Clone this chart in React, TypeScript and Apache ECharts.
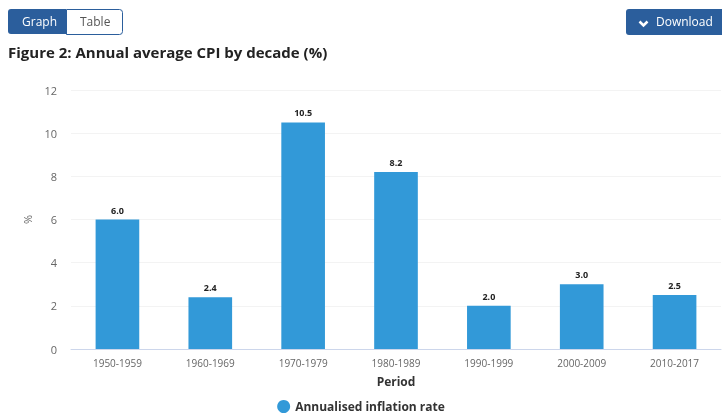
import React, { useEffect, useRef } from "react";
import * as echarts from "echarts";

const categories = ["1950-1959", "1960-1969", "1970-1979", "1980-1989", "1990-1999", "2000-2009", "2010-2017"];
const inflation = [6.0, 2.4, 10.5, 8.2, 2.0, 3.0, 2.5];
const yTicks = [0, 2, 4, 6, 8, 10, 12];
const seriesName = "Annualised inflation rate";
const titleText = "Figure 2: Annual average CPI by decade (%)";

export default function App() {
  const ref = useRef<HTMLDivElement>(null);
  useEffect(() => {
    if (!ref.current) return;
    const chart = echarts.init(ref.current, null, { renderer: "svg" });
    const font = "'Open Sans', 'Noto Sans', sans-serif";
    const navy = "#2b5e9c";
    chart.setOption({
      animation: false,
      textStyle: { fontFamily: font },
      grid: { left: 71, right: 1, top: 90, bottom: 65 },
      legend: {
        bottom: 1,
        padding: 0,
        left: "center",
        icon: "circle",
        itemWidth: 13,
        itemHeight: 13,
        itemGap: 6,
        textStyle: { fontSize: 12, fontWeight: "bold", color: "#333", fontFamily: font },
        data: [seriesName],
      },
      xAxis: {
        type: "category",
        data: categories,
        name: "Period",
        nameLocation: "middle",
        nameGap: 26,
        nameTextStyle: { fontSize: 12, fontWeight: "bold", color: "#333" },
        axisLine: { lineStyle: { color: "#ccd6eb" } },
        axisTick: { show: false },
        axisLabel: { color: "#666", fontSize: 10, margin: 9 },
      },
      yAxis: {
        type: "value",
        min: yTicks[0],
        max: yTicks[yTicks.length - 1],
        interval: 2,
        name: "%",
        nameLocation: "middle",
        nameGap: 38,
        nameRotate: 90,
        nameTextStyle: { fontSize: 11, color: "#666" },
        axisLabel: { color: "#666", fontSize: 11, margin: 14 },
        splitLine: { lineStyle: { color: "#f3f3f3" } },
      },
      series: [
        {
          name: seriesName,
          type: "bar",
          data: inflation,
          barWidth: "47%",
          itemStyle: { color: "#3299d8" },
          label: {
            show: true,
            position: "top",
            distance: 5,
            formatter: (p: any) => Number(p.value).toFixed(1),
            fontSize: 9,
            fontWeight: "bold",
            color: "#222",
          },
        },
      ],
      graphic: [
        { type: "rect", left: 8, top: 9, shape: { width: 58, height: 25, r: [3, 0, 0, 3] }, style: { fill: navy } },
        { type: "text", left: 22, top: 15, style: { text: "Graph", fill: "#fff", fontSize: 12, fontFamily: font } },
        { type: "rect", left: 66, top: 9, shape: { width: 56, height: 25, r: [0, 3, 3, 0] }, style: { fill: "#fff", stroke: navy, lineWidth: 1 } },
        { type: "text", left: 80, top: 15, style: { text: "Table", fill: "#555", fontSize: 12, fontFamily: font } },
        { type: "rect", left: 626, top: 9, shape: { width: 96, height: 26, r: [3, 0, 0, 3] }, style: { fill: navy } },
        { type: "polyline", left: 637, top: 19, shape: { points: [[0, 0], [4, 4], [8, 0]] }, style: { stroke: "#fff", lineWidth: 2.5, fill: "none" } },
        { type: "text", left: 656, top: 15, style: { text: "Download", fill: "#fff", fontSize: 12, fontFamily: font } },
        { type: "text", left: 8, top: 44, style: { text: titleText, fill: "#222", fontSize: 15, fontWeight: "bold", fontFamily: font } },
      ],
    });
    return () => chart.dispose();
  }, []);
  return <div ref={ref} style={{ position: "fixed", left: 0, top: 0, width: 722, height: 414 }} />;
}
